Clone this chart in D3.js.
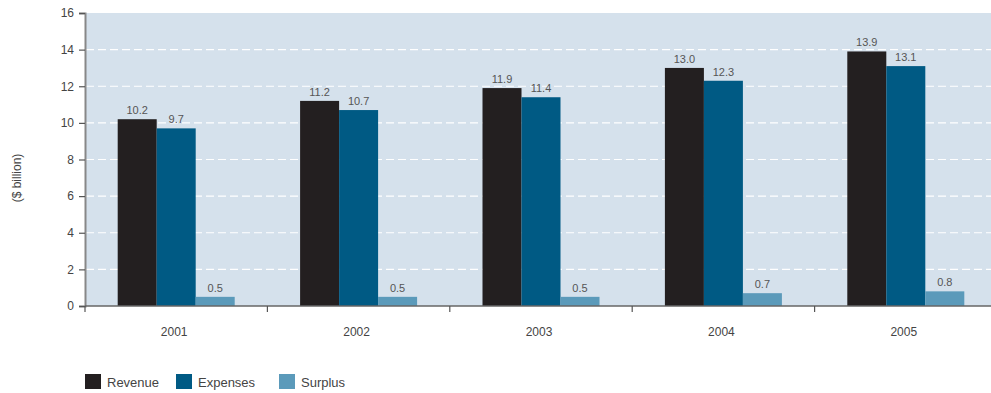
<!DOCTYPE html>
<html>
<head>
<meta charset="utf-8">
<script src="https://cdn.jsdelivr.net/npm/d3@7"></script>
<style>
  html, body { margin: 0; padding: 0; background: #fff; }
  svg { display: block; font-family: "Liberation Sans Narrow", "Arial Narrow", "Liberation Sans", Arial, sans-serif; }
</style>
</head>
<body>
<svg id="chart" width="991" height="393"></svg>
<script>
// Financial results by year, $ billion
const years = ["2001", "2002", "2003", "2004", "2005"];
const seriesNames = ["Revenue", "Expenses", "Surplus"];
const revenue = [10.2, 11.2, 11.9, 13.0, 13.9];
const expenses = [9.7, 10.7, 11.4, 12.3, 13.1];
const surplus = [0.5, 0.5, 0.5, 0.7, 0.8];
const yTicks = [0, 2, 4, 6, 8, 10, 12, 14, 16];

const colors = { Revenue: "#231f20", Expenses: "#005a84", Surplus: "#5b9aba" };
const valuesBySeries = { Revenue: revenue, Expenses: expenses, Surplus: surplus };

const svg = d3.select("#chart");
const plotLeft = 85, plotRight = 997, plotTop = 13, plotBottom = 306;

const x = d3.scaleBand().domain(years).range([plotLeft, plotRight]).paddingInner(0).paddingOuter(0);
const xInner = d3.scaleBand().domain(seriesNames).range([0, 117]);
const groupOffset = (x.bandwidth() - 117) / 2;
const y = d3.scaleLinear().domain([0, 16]).range([plotBottom, plotTop]);

// plot background
svg.append("rect")
  .attr("x", plotLeft).attr("y", plotTop)
  .attr("width", plotRight - plotLeft).attr("height", plotBottom - plotTop)
  .attr("fill", "#d5e1ec");

// dashed gridlines
svg.append("g")
  .selectAll("line")
  .data(yTicks.filter(t => t > 0 && t < 16))
  .join("line")
  .attr("x1", plotLeft + 1).attr("x2", plotRight)
  .attr("y1", d => y(d)).attr("y2", d => y(d))
  .attr("stroke", "#ffffff")
  .attr("stroke-width", 1.2)
  .attr("stroke-dasharray", "8,4");

// bars
const rows = [];
years.forEach((yr, i) => {
  seriesNames.forEach(s => rows.push({ year: yr, series: s, value: valuesBySeries[s][i] }));
});

svg.append("g")
  .selectAll("rect")
  .data(rows)
  .join("rect")
  .attr("x", d => x(d.year) + groupOffset + xInner(d.series))
  .attr("y", d => y(d.value))
  .attr("width", xInner.bandwidth())
  .attr("height", d => y(0) - y(d.value))
  .attr("fill", d => colors[d.series]);

// value labels
svg.append("g")
  .selectAll("text")
  .data(rows)
  .join("text")
  .attr("x", d => x(d.year) + groupOffset + xInner(d.series) + xInner.bandwidth() / 2)
  .attr("y", d => y(d.value) - 5)
  .attr("text-anchor", "middle")
  .attr("font-size", 11)
  .attr("fill", "#555")
  .text(d => d.value.toFixed(1));

// y axis
const yAxis = svg.append("g")
  .attr("transform", `translate(${plotLeft},0)`)
  .call(d3.axisLeft(y).tickValues(yTicks).tickSize(6).tickPadding(5).tickFormat(d3.format("d")));
yAxis.select(".domain").attr("stroke", "#888").attr("stroke-width", 2);
yAxis.selectAll(".tick line").attr("stroke", "#555").attr("stroke-width", 1.2);
yAxis.selectAll(".tick text").attr("font-size", 12).attr("fill", "#444")
  .style("font-family", "inherit");

// x axis with ticks on category boundaries
const xAxisG = svg.append("g").attr("transform", `translate(0,${plotBottom})`);
xAxisG.append("line")
  .attr("x1", plotLeft).attr("x2", plotRight)
  .attr("stroke", "#666").attr("stroke-width", 1.5);
xAxisG.selectAll("line.bound")
  .data(years.map(d => x(d)))
  .join("line")
  .attr("class", "bound")
  .attr("x1", d => d).attr("x2", d => d)
  .attr("y1", 0).attr("y2", 6)
  .attr("stroke", "#555").attr("stroke-width", 1.2);
xAxisG.selectAll("text")
  .data(years)
  .join("text")
  .attr("x", d => x(d) + x.bandwidth() / 2 - 2)
  .attr("y", 30)
  .attr("text-anchor", "middle")
  .attr("font-size", 12)
  .attr("fill", "#444")
  .text(d => d);

// y axis title
svg.append("text")
  .attr("transform", "translate(21,178) rotate(-90)")
  .attr("text-anchor", "middle")
  .attr("font-size", 12)
  .attr("fill", "#444")
  .text("($ billion)");

// legend
const legendX = [85, 176, 279];
const legend = svg.append("g")
  .selectAll("g")
  .data(seriesNames)
  .join("g")
  .attr("transform", (d, i) => `translate(${legendX[i]},374)`);
legend.append("rect")
  .attr("width", 16).attr("height", 15)
  .attr("fill", d => colors[d]);
legend.append("text")
  .attr("x", 22).attr("y", 13)
  .attr("font-size", 13)
  .attr("fill", "#444")
  .text(d => d);
</script>
</body>
</html>
